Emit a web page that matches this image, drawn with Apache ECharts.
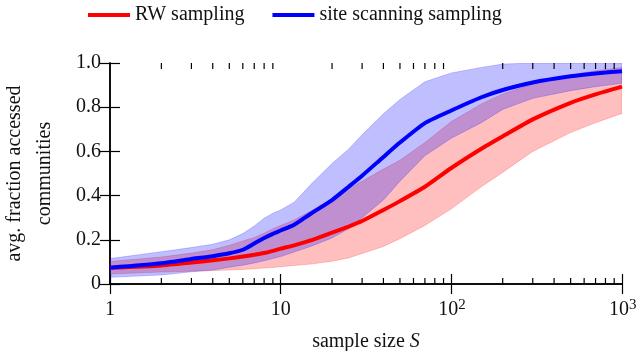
<!DOCTYPE html>
<html>
<head>
<meta charset="utf-8">
<script src="https://cdn.jsdelivr.net/npm/echarts@6/dist/echarts.min.js"></script>
<style>
  html, body { margin: 0; padding: 0; background: #fff; }
  #chart { width: 642px; height: 351px; }
</style>
</head>
<body>
<div id="chart"></div>
<script>
// sample sizes S (x axis, log scale)
var sizes = [1, 2, 3, 4, 5, 6, 7, 8, 9, 10, 12, 15, 20, 25, 30, 40, 50, 70, 100, 150, 200, 300, 500, 700, 1000]

// RW sampling: mean and band
var rwMean = [0.073, 0.084, 0.097, 0.107, 0.116, 0.124, 0.132, 0.140, 0.150, 0.160, 0.175, 0.197, 0.232, 0.260, 0.285, 0.335, 0.375, 0.440, 0.525, 0.612, 0.668, 0.745, 0.820, 0.858, 0.893]
var rwLow = [0.045, 0.054, 0.058, 0.061, 0.063, 0.066, 0.069, 0.072, 0.075, 0.078, 0.084, 0.090, 0.103, 0.118, 0.138, 0.170, 0.205, 0.265, 0.340, 0.440, 0.505, 0.600, 0.685, 0.730, 0.772]
var rwHigh = [0.102, 0.122, 0.140, 0.155, 0.175, 0.195, 0.210, 0.230, 0.250, 0.265, 0.290, 0.330, 0.385, 0.430, 0.465, 0.520, 0.560, 0.640, 0.735, 0.815, 0.860, 0.905, 0.945, 0.965, 0.980]

// site scanning sampling: mean and band
var ssMean = [0.074, 0.094, 0.113, 0.126, 0.139, 0.155, 0.183, 0.208, 0.227, 0.242, 0.268, 0.318, 0.380, 0.440, 0.490, 0.575, 0.640, 0.728, 0.785, 0.845, 0.878, 0.912, 0.940, 0.953, 0.963]
var ssLow = [0.030, 0.041, 0.055, 0.063, 0.076, 0.085, 0.095, 0.105, 0.115, 0.124, 0.145, 0.170, 0.208, 0.250, 0.300, 0.380, 0.465, 0.580, 0.660, 0.730, 0.790, 0.840, 0.875, 0.893, 0.908]
var ssHigh = [0.115, 0.146, 0.165, 0.180, 0.200, 0.228, 0.262, 0.298, 0.320, 0.335, 0.370, 0.450, 0.545, 0.610, 0.675, 0.770, 0.835, 0.915, 0.955, 0.980, 0.995, 1.000, 1.000, 1.000, 1.000]

// tick labels
var xTickVals = [0, 1, 2, 3]          // log10 of 1, 10, 100, 1000
var xTickBase = ['1', '10', '10', '10']
var xTickExp = ['', '', '2', '3']
var yTickVals = [0, 0.2, 0.4, 0.6, 0.8, 1.0]
var yTickLabels = ['0', '0.2', '0.4', '0.6', '0.8', '1.0']
var minorTicks = []
for (var d = 0; d < 3; d++) {
  for (var k = 2; k <= 9; k++) minorTicks.push(d + Math.log10(k))
}

var FONT = 'Times New Roman'
var INK = '#111'

function pts(arr) {
  return sizes.map(function (s, i) { return [Math.log10(s), arr[i]] })
}

// shaded band between lo and hi, drawn through the grid's coordinate system
function band(lo, hi, rgb) {
  return {
    type: 'custom', silent: true, z: 1, clip: true,
    data: sizes.map(function (s, i) { return [Math.log10(s), lo[i], hi[i]] }),
    encode: { x: 0, y: [1, 2] },
    renderItem: function (params, api) {
      if (params.dataIndex !== 0) return
      var top = [], bot = []
      for (var i = 0; i < sizes.length; i++) {
        var x = Math.log10(sizes[i])
        top.push(api.coord([x, hi[i]]))
        bot.unshift(api.coord([x, lo[i]]))
      }
      return {
        type: 'polygon',
        shape: { points: top.concat(bot) },
        style: { fill: 'rgba(' + rgb + ',0.25)', stroke: 'rgba(' + rgb + ',0.2)', lineWidth: 1 }
      }
    }
  }
}

// log minor ticks on an edge (y = 0 bottom, y = 1 top)
function minorTickSeries(yv, dir) {
  return {
    type: 'custom', silent: true, z: 10,
    data: minorTicks.map(function (v) { return [v, yv] }),
    encode: { x: 0, y: 1 },
    renderItem: function (params, api) {
      var p = api.coord([api.value(0), yv])
      return {
        type: 'line',
        shape: { x1: p[0], y1: p[1], x2: p[0], y2: p[1] + dir * 6 },
        style: { stroke: '#000', lineWidth: 1.2 }
      }
    }
  }
}

function txt(text, x, y, size, align) {
  return {
    type: 'text',
    style: {
      text: text, x: x, y: y, fill: INK,
      font: size + 'px "Liberation Serif"',
      fontFamily: 'Liberation Serif', fontSize: size,
      align: align, textAlign: align,
      verticalAlign: 'middle', textVerticalAlign: 'middle'
    }
  }
}

// tick labels placed through the axis scale
var xLabelSeries = {
  type: 'custom', silent: true, z: 10,
  data: xTickVals.map(function (v) { return [v, 0] }),
  encode: { x: 0, y: 1 },
  renderItem: function (params, api) {
    var i = params.dataIndex
    var p = api.coord([xTickVals[i], 0])
    var y = p[1] + 26
    if (!xTickExp[i]) return txt(xTickBase[i], p[0], y, 20, 'center')
    var left = p[0] - 13
    return {
      type: 'group',
      children: [
        txt(xTickBase[i], left, y, 20, 'left'),
        txt(xTickExp[i], left + 20, y - 5, 15, 'left')
      ]
    }
  }
}

var yLabelSeries = {
  type: 'custom', silent: true, z: 10,
  data: yTickVals.map(function (v) { return [0, v] }),
  encode: { x: 0, y: 1 },
  renderItem: function (params, api) {
    var i = params.dataIndex
    var p = api.coord([0, yTickVals[i]])
    return txt(yTickLabels[i], p[0] - 9, p[1], 20, 'right')
  }
}

function frame() { return { show: true, lineStyle: { color: '#000', width: 1.5 } } }
function ticks() { return { show: true, inside: true, length: 10, lineStyle: { color: '#000', width: 1.2 } } }

var chart = echarts.init(document.getElementById('chart'))

chart.setOption({
  animation: false,
  grid: { left: 110, right: 20, top: 63, bottom: 67, outerBoundsMode: 'none' },
  legend: {
    left: 83, top: 0,
    data: [
      { name: 'RW sampling', icon: 'rect' },
      { name: 'site scanning sampling', icon: 'rect' }
    ],
    itemWidth: 42, itemHeight: 4, itemGap: 28,
    textStyle: { fontFamily: FONT, fontSize: 20, color: INK }
  },
  xAxis: [
    {
      type: 'value', min: 0, max: 3, interval: 1, position: 'bottom',
      axisLine: frame(), axisTick: ticks(), splitLine: { show: false },
      axisLabel: { show: false },
      name: 'sample size {i|S}', nameLocation: 'middle', nameGap: 48,
      nameTextStyle: {
        fontFamily: FONT, fontSize: 20, color: INK,
        rich: { i: { fontFamily: FONT, fontStyle: 'italic', fontSize: 20, color: INK } }
      }
    },
    {
      type: 'value', min: 0, max: 3, interval: 1, position: 'top',
      axisLine: frame(), axisTick: ticks(), splitLine: { show: false },
      axisLabel: { show: false }
    }
  ],
  yAxis: [
    {
      type: 'value', min: 0, max: 1, interval: 0.2, position: 'left',
      axisLine: frame(), axisTick: ticks(), splitLine: { show: false },
      axisLabel: { show: false },
      name: 'avg. fraction accessed\ncommunities', nameLocation: 'middle', nameGap: 50,
      nameTextStyle: { fontFamily: FONT, fontSize: 20, color: INK, lineHeight: 30 }
    },
    {
      type: 'value', min: 0, max: 1, interval: 0.2, position: 'right',
      axisLine: frame(), axisTick: ticks(), splitLine: { show: false },
      axisLabel: { show: false }
    }
  ],
  series: [
    band(rwLow, rwHigh, '255,0,0'),
    band(ssLow, ssHigh, '0,0,255'),
    {
      name: 'RW sampling', type: 'line', data: pts(rwMean), symbol: 'none', z: 3,
      smooth: 0.2, color: '#ff0000', lineStyle: { color: '#ff0000', width: 4 }
    },
    {
      name: 'site scanning sampling', type: 'line', data: pts(ssMean), symbol: 'none', z: 4,
      smooth: 0.2, color: '#0000ff', lineStyle: { color: '#0000ff', width: 4 }
    },
    minorTickSeries(0, -1),
    minorTickSeries(1, 1),
    xLabelSeries,
    yLabelSeries
  ]
})
</script>
</body>
</html>
